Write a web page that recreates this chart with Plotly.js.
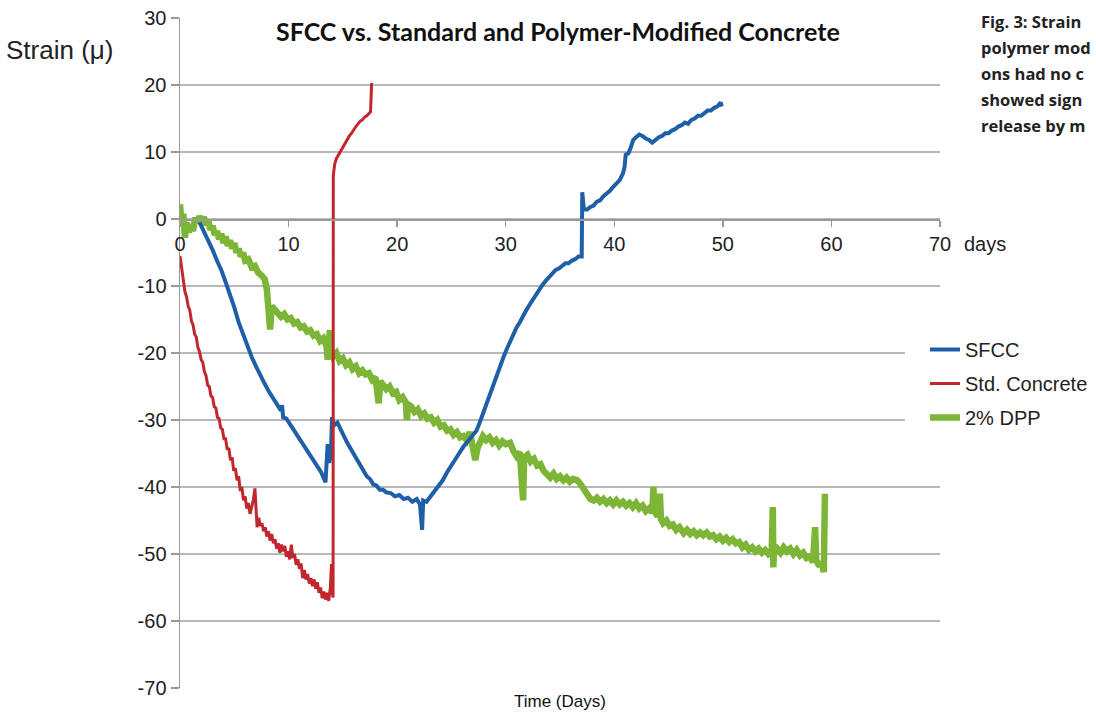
<!DOCTYPE html>
<html>
<head>
<meta charset="utf-8">
<script src="https://cdn.plot.ly/plotly-3.0.1.min.js"></script>
<style>
  html, body { margin: 0; padding: 0; background: #fff; }
  #chart { width: 1096px; height: 714px; }
</style>
</head>
<body>
<div id="chart"></div>
<script>
// ---------- data (days, strain in micro-strain) ----------
const sfccDays = [1.8,2.2,2.6,3.0,3.4,3.8,4.2,4.6,5.0,5.4,5.8,6.2,6.6,7.0,7.4,7.8,8.2,8.6,9.0,9.3,9.4,9.5,9.8,10.2,10.6,11.0,11.4,11.8,12.2,12.6,13.0,13.4,13.5,13.6,13.75,13.9,14.0,14.2,14.5,14.8,15.1,15.4,15.7,16.0,16.3,16.6,16.9,17.2,17.5,17.8,18.1,18.4,18.7,19.0,19.4,19.8,20.2,20.6,21.0,21.4,21.8,22.1,22.3,22.4,22.7,23.0,23.4,23.8,24.2,24.6,24.9,25.3,25.7,26.1,26.5,26.9,27.3,27.6,28.0,28.3,28.6,28.9,29.2,29.5,29.8,30.1,30.4,30.7,31.0,31.3,31.6,31.9,32.2,32.5,32.8,33.1,33.4,33.7,34.0,34.3,34.6,34.9,35.2,35.5,35.8,36.1,36.4,36.7,37.0,37.05,37.2,37.5,37.8,38.1,38.4,38.7,39.0,39.3,39.6,39.9,40.2,40.5,40.8,40.95,41.05,41.3,41.5,41.75,42.0,42.3,42.6,42.9,43.2,43.5,43.8,44.1,44.4,44.7,45.0,45.3,45.6,45.9,46.2,46.5,46.8,47.1,47.4,47.7,48.0,48.3,48.6,48.9,49.2,49.5,49.8,49.9];
const sfccStrain = [-0.5,-1.8,-3.2,-4.6,-6.2,-7.6,-9.4,-11.2,-13.2,-15.4,-17.2,-19.0,-20.6,-22.0,-23.4,-24.6,-25.8,-26.8,-28.0,-28.6,-27.8,-29.6,-29.8,-30.8,-31.8,-32.8,-33.8,-34.8,-35.8,-36.8,-37.8,-39.3,-36.0,-33.6,-36.4,-35.0,-29.6,-30.8,-30.4,-31.6,-32.4,-33.4,-34.2,-35.2,-35.8,-36.8,-37.6,-38.4,-38.8,-39.6,-39.8,-40.4,-40.4,-40.8,-40.9,-41.4,-41.2,-41.8,-41.6,-42.2,-41.8,-42.6,-46.4,-42.0,-42.2,-41.6,-40.8,-40.0,-39.0,-37.8,-37.0,-35.8,-35.0,-34.0,-33.2,-32.4,-31.6,-30.4,-28.6,-27.0,-26.0,-24.6,-23.2,-22.0,-20.6,-19.4,-18.2,-17.4,-16.2,-15.4,-14.4,-13.6,-12.8,-12.0,-11.2,-10.4,-9.8,-9.2,-8.6,-8.2,-7.6,-7.4,-7.0,-6.6,-6.6,-6.2,-6.0,-5.6,-5.6,4.0,1.4,1.4,1.8,2.0,2.6,2.8,3.4,3.8,4.2,4.8,5.4,5.8,6.8,7.8,9.6,9.8,10.6,11.8,12.2,12.6,12.4,12.0,11.8,11.4,11.8,12.2,12.4,12.8,12.8,13.2,13.4,13.8,14.0,14.4,14.2,14.8,15.0,15.4,15.4,15.8,16.2,16.2,16.6,16.8,17.4,16.8];

const stdDays = [0.0,0.15,0.3,0.45,0.6,0.75,0.9,1.05,1.2,1.35,1.5,1.65,1.8,1.95,2.1,2.25,2.4,2.55,2.7,2.85,3.0,3.15,3.3,3.45,3.6,3.75,3.9,4.05,4.2,4.35,4.5,4.65,4.8,4.95,5.1,5.25,5.4,5.55,5.7,5.85,6.0,6.15,6.3,6.45,6.6,6.75,6.9,7.0,7.1,7.25,7.4,7.55,7.7,7.85,8.0,8.15,8.3,8.45,8.6,8.75,8.9,9.05,9.2,9.35,9.5,9.65,9.8,9.95,10.1,10.25,10.4,10.55,10.7,10.85,11.0,11.15,11.3,11.45,11.6,11.75,11.9,12.05,12.2,12.35,12.5,12.65,12.8,12.95,13.1,13.25,13.4,13.55,13.7,13.85,13.95,14.05,14.1,14.12,14.25,14.4,14.6,14.8,15.0,15.2,15.4,15.6,15.8,16.0,16.2,16.4,16.6,16.8,17.0,17.2,17.4,17.55,17.65];
const stdStrain = [-5.5,-7.5,-9.0,-10.8,-11.6,-13.0,-13.6,-15.2,-15.8,-17.2,-17.6,-19.2,-19.8,-21.0,-21.4,-22.8,-23.4,-24.8,-25.0,-26.4,-26.6,-28.0,-28.2,-29.6,-29.8,-31.2,-31.4,-32.8,-32.8,-34.4,-34.2,-36.0,-35.6,-37.6,-37.2,-39.0,-38.4,-40.6,-40.0,-42.0,-41.4,-43.2,-42.4,-44.0,-43.0,-42.0,-40.2,-44.5,-46.0,-44.6,-45.8,-45.4,-46.6,-46.0,-47.4,-46.6,-48.0,-47.0,-48.4,-47.8,-49.2,-48.4,-49.8,-48.6,-49.6,-48.8,-50.4,-49.6,-50.8,-48.6,-50.6,-50.0,-51.6,-50.8,-52.2,-51.4,-53.6,-52.4,-53.8,-53.0,-54.4,-53.6,-54.8,-53.8,-55.2,-54.2,-55.8,-55.0,-56.6,-55.6,-56.8,-55.8,-57.0,-55.0,-51.5,-56.0,-56.5,6.5,8.2,9.0,9.6,10.2,10.8,11.4,11.8,12.4,12.8,13.4,13.8,14.2,14.6,14.8,15.2,15.4,15.8,16.0,20.3];

const dppDays = [0.0,0.15,0.3,0.45,0.6,0.8,1.0,1.2,1.4,1.6,1.8,2.0,2.2,2.4,2.6,2.8,3.0,3.2,3.4,3.6,3.8,4.0,4.2,4.4,4.6,4.8,5.0,5.2,5.4,5.6,5.8,6.0,6.3,6.6,6.9,7.2,7.5,7.8,8.0,8.15,8.3,8.45,8.7,9.0,9.3,9.6,9.9,10.2,10.5,10.8,11.1,11.4,11.7,12.0,12.3,12.6,12.9,13.2,13.5,13.6,13.7,13.8,13.9,14.1,14.4,14.7,15.0,15.3,15.6,15.9,16.2,16.5,16.8,17.1,17.4,17.7,18.0,18.3,18.45,18.7,19.0,19.3,19.6,19.9,20.2,20.5,20.8,20.9,21.0,21.3,21.6,21.9,22.2,22.5,22.8,23.1,23.4,23.7,24.0,24.3,24.6,24.9,25.2,25.5,25.8,26.1,26.4,26.7,27.0,27.2,27.4,27.7,27.9,28.2,28.5,28.8,29.1,29.4,29.7,30.0,30.4,30.7,31.0,31.3,31.6,31.7,32.0,32.3,32.6,32.9,33.2,33.5,33.8,34.1,34.4,34.7,35.0,35.3,35.6,35.9,36.2,36.6,36.9,37.2,37.5,37.8,38.1,38.4,38.7,39.0,39.3,39.6,39.9,40.2,40.5,40.8,41.1,41.4,41.7,42.0,42.3,42.6,42.9,43.2,43.5,43.6,43.7,44.0,44.2,44.3,44.5,44.8,45.1,45.4,45.7,46.0,46.4,46.7,47.0,47.3,47.6,47.9,48.2,48.5,48.8,49.1,49.4,49.7,50.0,50.3,50.6,50.9,51.2,51.5,51.8,52.1,52.4,52.7,53.0,53.3,53.6,53.9,54.2,54.5,54.6,54.65,54.7,55.0,55.3,55.6,55.9,56.2,56.5,56.8,57.1,57.4,57.7,58.0,58.3,58.5,58.6,58.9,59.1,59.3,59.4];
const dppStrain = [2.2,-1.0,0.8,-2.8,-0.5,-2.0,-0.8,-1.8,0.2,-0.6,0.4,-0.3,0.3,-0.9,-0.2,-1.6,-1.0,-2.4,-1.8,-3.0,-2.2,-3.6,-2.6,-4.0,-3.2,-4.4,-3.6,-5.0,-4.4,-5.6,-5.0,-6.2,-6.0,-7.2,-7.0,-8.0,-8.4,-9.0,-10.5,-13.0,-16.5,-13.0,-13.5,-13.8,-14.6,-14.2,-15.0,-14.8,-15.6,-15.4,-16.2,-16.0,-16.8,-16.6,-17.4,-17.2,-18.2,-17.8,-19.0,-21.0,-18.0,-16.6,-19.5,-20.5,-20.0,-21.2,-20.8,-21.8,-21.4,-22.4,-22.0,-23.0,-22.6,-23.2,-23.0,-24.0,-23.6,-27.5,-24.2,-24.6,-25.4,-25.0,-26.0,-25.8,-27.0,-26.6,-27.4,-30.0,-27.6,-28.0,-28.8,-28.4,-29.4,-29.0,-29.8,-29.6,-30.4,-30.0,-31.0,-30.8,-31.6,-31.4,-32.2,-31.8,-32.6,-32.4,-33.0,-31.8,-34.0,-36.0,-34.2,-33.0,-32.4,-33.0,-32.6,-33.4,-33.0,-33.8,-33.2,-33.6,-33.4,-34.6,-35.4,-34.8,-42.0,-35.6,-35.2,-36.2,-35.8,-36.8,-36.6,-37.6,-38.0,-38.6,-38.0,-38.8,-38.4,-39.0,-38.6,-39.2,-38.8,-39.0,-39.6,-40.4,-41.4,-41.8,-42.0,-41.6,-42.2,-41.8,-42.4,-42.0,-42.6,-42.0,-42.6,-42.2,-42.8,-42.4,-43.0,-42.4,-43.2,-42.8,-43.6,-43.2,-43.8,-40.0,-43.6,-44.4,-41.0,-44.8,-45.4,-45.0,-45.8,-45.6,-46.4,-46.0,-46.9,-46.4,-47.0,-46.6,-47.2,-46.8,-47.2,-46.8,-47.4,-47.2,-47.8,-47.4,-48.0,-47.6,-48.2,-47.8,-48.4,-48.2,-49.0,-48.6,-49.4,-49.0,-49.6,-49.2,-49.8,-49.4,-50.0,-49.6,-43.0,-52.0,-49.8,-49.2,-49.8,-49.0,-49.6,-49.2,-50.0,-49.4,-50.2,-49.8,-50.6,-50.4,-51.2,-46.0,-51.0,-51.8,-51.2,-52.7,-41.0];

const seriesNames = ['SFCC', 'Std. Concrete', '2% DPP'];
const xTicks = [0, 10, 20, 30, 40, 50, 60, 70];
const yTicks = [30, 20, 10, 0, -10, -20, -30, -40, -50, -60, -70];
const captionLines = ['Fig. 3: Strain', 'polymer mod', 'ons had no c', 'showed sign', 'release by m'];

// ---------- traces ----------
const FONT = 'Liberation Sans, Arial, sans-serif';
const traces = [
  { x: dppDays, y: dppStrain, name: seriesNames[2], type: 'scatter', mode: 'lines',
    line: { color: '#7db636', width: 6.5 }, legendrank: 3, legendgroup: 'c' },
  { x: sfccDays, y: sfccStrain, name: seriesNames[0], type: 'scatter', mode: 'lines',
    line: { color: '#1f5fa8', width: 4 }, legendrank: 1, legendgroup: 'a' },
  { x: stdDays, y: stdStrain, name: seriesNames[1], type: 'scatter', mode: 'lines',
    line: { color: '#c1272d', width: 3 }, legendrank: 2, legendgroup: 'b' }
];

const L = 180, R = 940, T = 18, B = 688;
const W = 1096, H = 714;
const pyToPaper = py => (B - py) / (B - T);
const pxToPaper = px => (px - L) / (R - L);

const annotations = [
  { text: '<b>SFCC vs. Standard and Polymer-Modified Concrete</b>', xref: 'paper', yref: 'paper',
    x: pxToPaper(558), y: pyToPaper(31), xanchor: 'center', yanchor: 'middle', showarrow: false,
    font: { family: 'Lato, sans-serif', size: 25, color: '#111' } },
  { text: 'Strain (μ)', xref: 'paper', yref: 'paper', x: pxToPaper(4), y: pyToPaper(50),
    xanchor: 'left', yanchor: 'middle', showarrow: false,
    font: { family: FONT, size: 26, color: '#222' } },
  { text: 'days', xref: 'paper', yref: 'paper', x: pxToPaper(962), y: pyToPaper(244),
    xanchor: 'left', yanchor: 'middle', showarrow: false,
    font: { family: FONT, size: 20, color: '#222' } },
  { text: 'Time (Days)', xref: 'paper', yref: 'paper', x: pxToPaper(560), y: pyToPaper(701),
    xanchor: 'center', yanchor: 'middle', showarrow: false,
    font: { family: FONT, size: 17, color: '#111' } }
];
captionLines.forEach((t, i) => {
  annotations.push({ text: '<b>' + t + '</b>', xref: 'paper', yref: 'paper',
    x: pxToPaper(979), y: pyToPaper(22 + i * 25.8), xanchor: 'left', yanchor: 'middle',
    showarrow: false, font: { family: 'Open Sans, sans-serif', size: 16.5, color: '#222' } });
});

const layout = {
  width: W, height: H,
  margin: { l: L, r: W - R, t: T, b: H - B, pad: 0, autoexpand: false },
  paper_bgcolor: '#fff', plot_bgcolor: '#fff',
  showlegend: true,
  legend: { x: pxToPaper(925), y: pyToPaper(330), xanchor: 'left', yanchor: 'top',
    bgcolor: 'rgba(0,0,0,0)', borderwidth: 0, tracegroupgap: 5,
    font: { family: FONT, size: 20, color: '#222' }, itemwidth: 30 },
  xaxis: { range: [0, 70], tickvals: xTicks, ticktext: xTicks.map(String),
    anchor: 'free', position: 0.7, showline: true, linecolor: '#9a9a9a', linewidth: 1.5,
    ticks: 'outside', ticklen: 6, tickcolor: '#9a9a9a', tickwidth: 1.5,
    showgrid: false, zeroline: false,
    tickfont: { family: FONT, size: 20, color: '#222' } },
  yaxis: { range: [-70, 30], tickvals: yTicks, ticktext: yTicks.map(String),
    showline: true, linecolor: '#9a9a9a', linewidth: 1.5,
    ticks: 'outside', ticklen: 8, tickcolor: '#9a9a9a', tickwidth: 1.5,
    showgrid: true, gridcolor: '#b8b8b8', gridwidth: 2, zeroline: false,
    tickfont: { family: FONT, size: 20, color: '#222' } },
  shapes: [
    { type: 'rect', xref: 'paper', yref: 'y', x0: pxToPaper(905), x1: 1.0, y0: -32, y1: -18,
      fillcolor: '#fff', line: { width: 0 }, layer: 'above' }
  ],
  annotations: annotations
};

Plotly.newPlot('chart', traces, layout, { displayModeBar: false, staticPlot: true });
</script>
</body>
</html>
